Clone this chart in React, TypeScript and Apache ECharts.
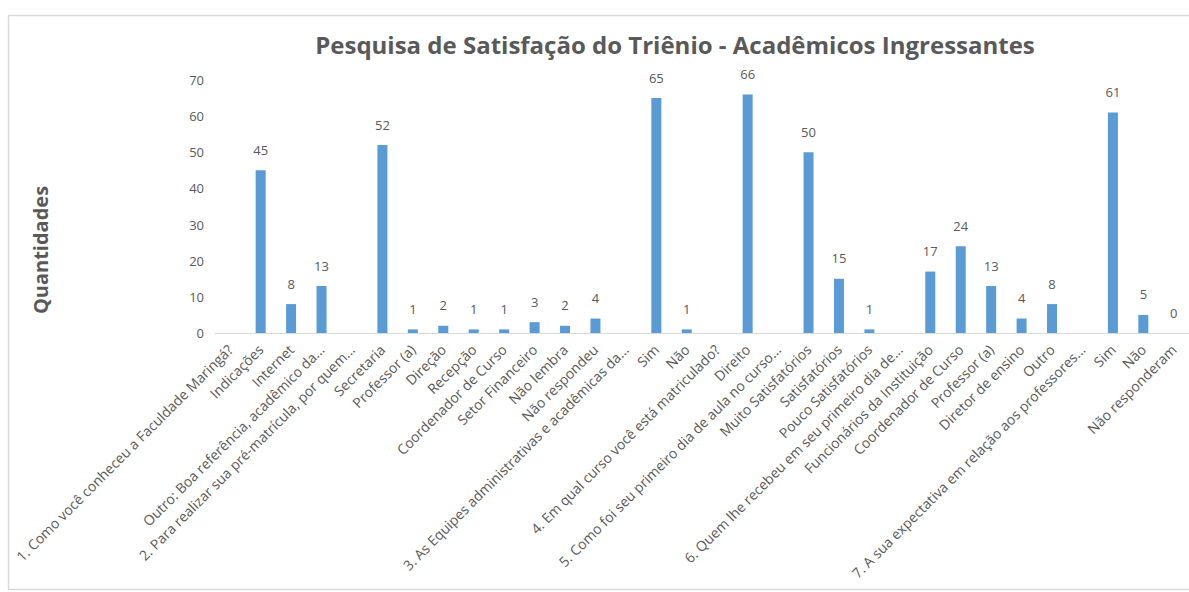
import React, { useEffect, useRef } from "react";
import * as echarts from "echarts";

const TITLE = "Pesquisa de Satisfação do Triênio - Acadêmicos Ingressantes";
const Y_NAME = "Quantidades";

const categories: string[] = [
  "1. Como você conheceu a Faculdade Maringá?",
  "Indicações",
  "Internet",
  "Outro: Boa referência, acadêmico da...",
  "2. Para realizar sua pré-matrícula, por quem...",
  "Secretaria",
  "Professor (a)",
  "Direção",
  "Recepção",
  "Coordenador de Curso",
  "Setor Financeiro",
  "Não lembra",
  "Não respondeu",
  "3. As Equipes administrativas e acadêmicas da...",
  "Sim",
  "Não",
  "4. Em qual curso você está matriculado?",
  "Direito",
  "5. Como foi seu primeiro dia de aula no curso...",
  "Muito Satisfatórios",
  "Satisfatórios",
  "Pouco Satisfatórios",
  "6. Quem lhe recebeu em seu primeiro dia de...",
  "Funcionários da Instituição",
  "Coordenador de Curso",
  "Professor (a)",
  "Diretor de ensino",
  "Outro",
  "7. A sua expectativa em relação aos professores...",
  "Sim",
  "Não",
  "Não responderam",
];

const values: (number | null)[] = [
  null, 45, 8, 13,
  null, 52, 1, 2, 1, 1, 3, 2, 4,
  null, 65, 1,
  null, 66,
  null, 50, 15, 1,
  null, 17, 24, 13, 4, 8,
  null, 61, 5, 0,
];

const yTicks = { min: 0, max: 70, interval: 10 };

export default function App() {
  const ref = useRef<HTMLDivElement>(null);
  useEffect(() => {
    if (!ref.current) return;
    const chart = echarts.init(ref.current, null, { renderer: "svg" });
    const font = "'Open Sans', 'Noto Sans', sans-serif";
    chart.setOption({
      animation: false,
      backgroundColor: "#ffffff",
      textStyle: { fontFamily: font },
      title: {
        text: TITLE,
        left: 670,
        textAlign: "center",
        top: 27,
        textStyle: { fontFamily: font, fontSize: 24, fontWeight: "bold", color: "#595959" },
      },
      graphic: [
        {
          type: "rect",
          shape: { x: 8.5, y: 15.5, width: 1200, height: 574 },
          style: { fill: "none", stroke: "#d9d9d9", lineWidth: 1.5 },
          silent: true,
        },
        {
          type: "text",
          x: 40,
          y: 250,
          rotation: Math.PI / 2,
          style: {
            text: Y_NAME,
            fontFamily: font,
            fontSize: 20,
            fontWeight: "bold",
            fill: "#595959",
            textAlign: "center",
            textVerticalAlign: "middle",
          },
        },
      ],
      grid: { left: 215, top: 80, width: 976, height: 253 },
      xAxis: {
        type: "category",
        data: categories,
        axisLine: { lineStyle: { color: "#d9d9d9", width: 1 } },
        axisTick: { show: false },
        axisLabel: {
          interval: 0,
          rotate: 45,
          margin: 14,
          fontSize: 14,
          color: "#595959",
          fontFamily: font,
        },
      },
      yAxis: {
        type: "value",
        min: yTicks.min,
        max: yTicks.max,
        interval: yTicks.interval,
        splitLine: { show: false },
        axisLine: { show: false },
        axisTick: { show: false },
        axisLabel: { fontSize: 13, color: "#595959", margin: 11, fontFamily: font },
      },
      series: [
        {
          type: "bar",
          data: values,
          barWidth: 10,
          itemStyle: { color: "#5B9BD5" },
          label: {
            show: true,
            position: "top",
            distance: 14,
            fontSize: 13,
            color: "#595959",
            fontFamily: font,
          },
        },
      ],
    });
    return () => chart.dispose();
  }, []);
  return (
    <div
      ref={ref}
      style={{ position: "fixed", left: 0, top: 0, width: 1189, height: 592 }}
    />
  );
}
